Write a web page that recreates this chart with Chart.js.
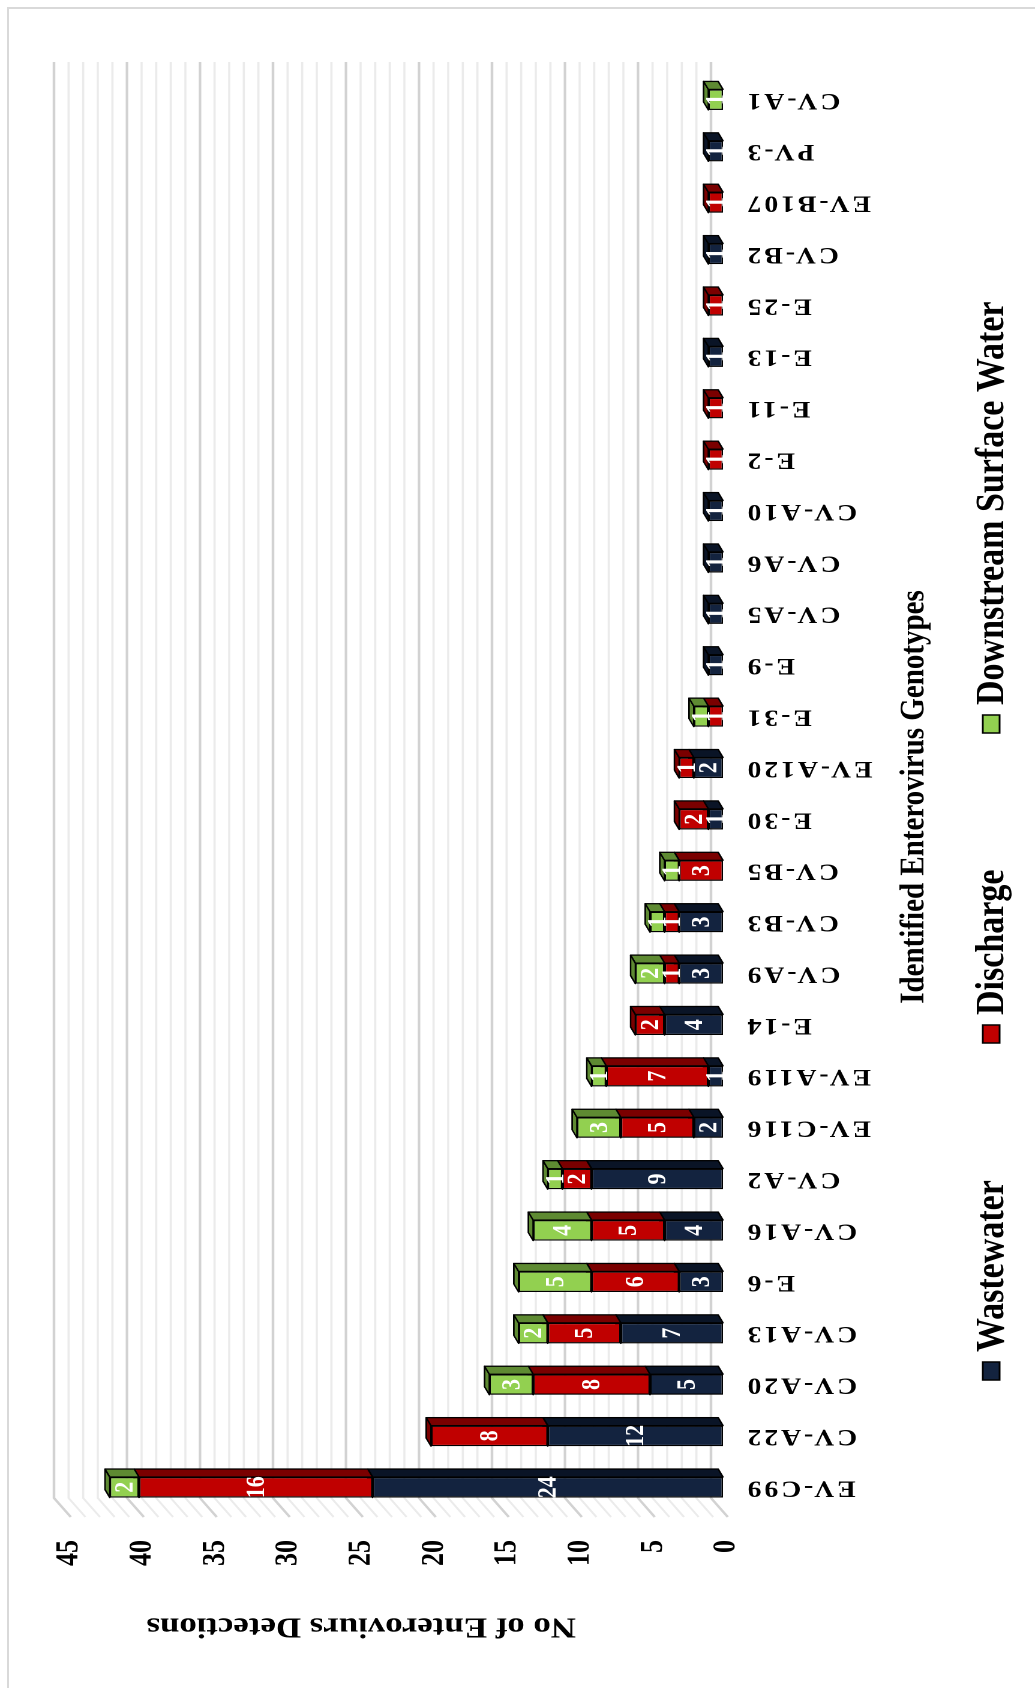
<!DOCTYPE html>
<html>
<head>
<meta charset="utf-8">
<script src="https://cdn.jsdelivr.net/npm/chart.js@4.4.1/dist/chart.umd.min.js"></script>
<style>
  html, body { margin: 0; padding: 0; background: #fff; overflow: hidden; }
  #page { position: relative; width: 1035px; height: 1688px; overflow: hidden; }
  #frame { position: absolute; left: 7px; top: 7px; width: 1100px; height: 1800px;
           border-left: 2px solid #d9d9d9; border-top: 2px solid #d9d9d9; }
  /* chart is laid out as a column chart, then turned on its side and widened a little */
  #turn { position: absolute; left: 0; top: 0; width: 1688px; height: 862px;
          transform-origin: 0 0; transform: matrix(0, -1, 1.2, 0, 0, 1688); }
</style>
</head>
<body>
<div id="page">
  <div id="frame"></div>
  <div id="turn"><canvas id="chart" width="1688" height="862"></canvas></div>
</div>
<script>
const genotypes = ["EV-C99", "CV-A22", "CV-A20", "CV-A13", "E-6", "CV-A16", "CV-A2", "EV-C116",
  "EV-A119", "E-14", "CV-A9", "CV-B3", "CV-B5", "E-30", "EV-A120", "E-31", "E-9", "CV-A5",
  "CV-A6", "CV-A10", "E-2", "E-11", "E-13", "E-25", "CV-B2", "EV-B107", "PV-3", "CV-A1"];
const wastewater = [24, 12, 5, 7, 3, 4, 9, 2, 1, 4, 3, 3, 0, 1, 2, 0, 1, 1, 1, 1, 0, 0, 1, 0, 1, 0, 1, 0];
const discharge  = [16, 8, 8, 5, 6, 5, 2, 5, 7, 2, 1, 1, 3, 2, 1, 1, 0, 0, 0, 0, 1, 1, 0, 1, 0, 1, 0, 0];
const downstream = [2, 0, 3, 2, 5, 4, 1, 3, 1, 0, 2, 1, 1, 0, 0, 1, 0, 0, 0, 0, 0, 0, 0, 0, 0, 0, 0, 1];
const axisMax = 45;
const axisStep = 5;

const serif = "'Liberation Serif', 'Times New Roman', serif";
Chart.defaults.font.family = serif;
Chart.defaults.color = '#000';

const depth = { x: 8, y: -4 };       // bar side faces
const wall = { x: 19, y: -14 };      // back wall relative to the front edge
const frontShift = 4;                // front edge of the floor sits ahead of the bars

function poly(ctx, pts) {
  ctx.beginPath();
  ctx.moveTo(pts[0][0], pts[0][1]);
  for (let i = 1; i < pts.length; i++) ctx.lineTo(pts[i][0], pts[i][1]);
  ctx.closePath();
  ctx.fill();
  ctx.stroke();
}

const box3d = {
  id: 'box3d',
  beforeDatasetsDraw(chart) {
    const { ctx, chartArea: a, scales: { y } } = chart;
    ctx.save();
    // back wall + side wall gridlines
    for (let v = 0; v <= axisMax; v++) {
      const major = v % axisStep === 0;
      const yf = y.getPixelForValue(v) + frontShift;
      ctx.strokeStyle = major ? '#d2d2d2' : '#ebebeb';
      ctx.lineWidth = major ? 2.2 : 1.8;
      ctx.beginPath();
      ctx.moveTo(a.left - 4, yf);
      ctx.lineTo(a.left - 4 + wall.x, yf + wall.y);
      ctx.lineTo(a.right + 12, yf + wall.y);
      ctx.stroke();
    }
    // top and side faces of each block
    ctx.strokeStyle = '#000';
    ctx.lineWidth = 1.3;
    ctx.lineJoin = 'round';
    chart.data.datasets.forEach((ds, di) => {
      chart.getDatasetMeta(di).data.forEach((bar, i) => {
        if (!ds.data[i]) return;
        const l = bar.x - bar.width / 2, r = bar.x + bar.width / 2, t = bar.y, b = bar.base;
        ctx.fillStyle = ds.sideColor;
        poly(ctx, [[l, t], [r, t], [r + depth.x, t + depth.y], [l + depth.x, t + depth.y]]);
        poly(ctx, [[r, t], [r + depth.x, t + depth.y], [r + depth.x, b + depth.y], [r, b]]);
      });
    });
    ctx.restore();
  },
  afterDatasetsDraw(chart) {
    const { ctx } = chart;
    ctx.save();
    ctx.font = 'bold 22px ' + serif;
    ctx.fillStyle = '#fff';
    ctx.textAlign = 'center';
    ctx.textBaseline = 'middle';
    chart.data.datasets.forEach((ds, di) => {
      chart.getDatasetMeta(di).data.forEach((bar, i) => {
        if (!ds.data[i]) return;
        ctx.fillText(String(ds.data[i]), bar.x, (bar.y + bar.base) / 2 + 1);
      });
    });
    ctx.restore();
  },
  afterDraw(chart) {
    const { ctx, chartArea: a, scales: { x } } = chart;
    ctx.save();
    // genotype names
    ctx.fillStyle = '#000';
    ctx.font = 'bold 23px ' + serif;
    ctx.letterSpacing = '2.5px';
    ctx.textAlign = 'right';
    ctx.textBaseline = 'middle';
    genotypes.forEach((g, i) => {
      ctx.save();
      ctx.translate(x.getPixelForTick(i), a.bottom + 18);
      ctx.rotate(-Math.PI / 2);
      ctx.fillText(g, 0, 0);
      ctx.restore();
    });
    ctx.letterSpacing = '0px';

    // axis titles
    ctx.textAlign = 'center';
    ctx.font = 'bold 29px ' + serif;
    ctx.fillText('Identified Enterovirus Genotypes', 891, 762);
    ctx.save();
    ctx.translate(62, 301);
    ctx.rotate(-Math.PI / 2);
    ctx.font = 'bold 29px ' + serif;
    ctx.fillText('No of Enteroviurs Detections', 0, 0);
    ctx.restore();

    // legend
    const boxes = [308, 645, 955];
    ctx.font = 'bold 34px ' + serif;
    ctx.textAlign = 'left';
    ctx.lineWidth = 1.5;
    ctx.strokeStyle = '#000';
    chart.data.datasets.forEach((ds, di) => {
      const bx = boxes[di];
      ctx.fillStyle = ds.backgroundColor;
      ctx.fillRect(bx, 819, 18, 14);
      ctx.strokeRect(bx, 819, 18, 14);
      ctx.fillStyle = '#000';
      ctx.fillText(ds.label, bx + 28, 827);
    });
    ctx.restore();
  }
};

new Chart(document.getElementById('chart'), {
  type: 'bar',
  data: {
    labels: genotypes,
    datasets: [
      { label: 'Wastewater', data: wastewater, backgroundColor: '#13233f', sideColor: '#0a1426' },
      { label: 'Discharge', data: discharge, backgroundColor: '#c00000', sideColor: '#7a0000' },
      { label: 'Downstream Surface Water', data: downstream, backgroundColor: '#92d050', sideColor: '#5e8a32' }
    ].map(d => Object.assign(d, {
      borderColor: '#000', borderWidth: 1.3, borderSkipped: false,
      barPercentage: 0.4, categoryPercentage: 1
    }))
  },
  plugins: [box3d],
  options: {
    responsive: false,
    devicePixelRatio: 2,
    animation: false,
    layout: { padding: { top: 55, right: 74, left: 0, bottom: 0 } },
    plugins: { legend: { display: false }, tooltip: { enabled: false } },
    scales: {
      x: {
        stacked: true,
        grid: { display: false },
        border: { display: false },
        ticks: { display: false },
        afterFit: s => { s.height = 259.5; }
      },
      y: {
        stacked: true,
        min: 0,
        max: axisMax,
        grid: { display: false, drawTicks: false },
        border: { display: false },
        ticks: { stepSize: axisStep, padding: 27, labelOffset: 3, font: { size: 26, weight: 'bold' } },
        afterFit: s => { s.width = 175; }
      }
    }
  }
});
</script>
</body>
</html>
